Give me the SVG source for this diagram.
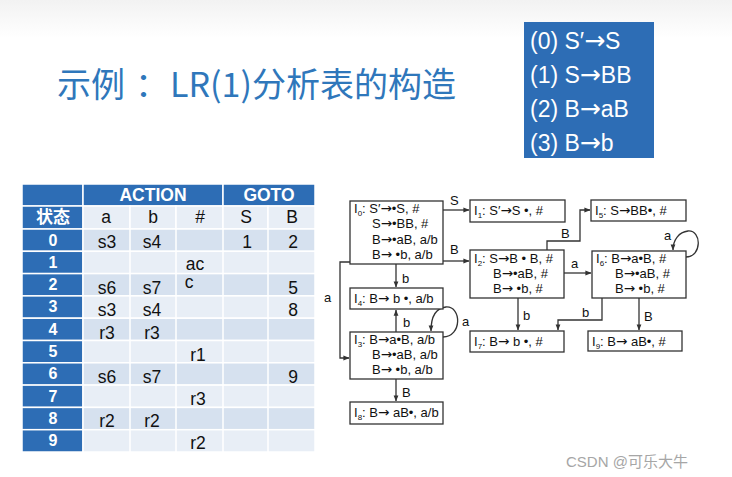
<svg xmlns="http://www.w3.org/2000/svg" width="732" height="477" viewBox="0 0 732 477">
<defs>
<linearGradient id="topfade" x1="0" y1="0" x2="0" y2="1">
<stop offset="0" stop-color="#f2f2f2"/>
<stop offset="1" stop-color="#ffffff"/>
</linearGradient>
<marker id="arr" viewBox="0 0 8 8" refX="7.5" refY="4" markerWidth="6" markerHeight="6" markerUnits="userSpaceOnUse" orient="auto">
<path d="M0,0.8 L8,4 L0,7.2 Z" fill="#333"/>
</marker>
<style>
.dark{fill:#2d6db5;stroke:#fff;stroke-width:1.5}
.lite{fill:#d6e1ef;stroke:#fff;stroke-width:1.5}
.lite2{fill:#e8eef6;stroke:#fff;stroke-width:1.5}
.th{font-family:"Liberation Sans","Noto Sans CJK SC",sans-serif;font-weight:bold;fill:#fff;text-anchor:middle}
.td{font-family:"Liberation Sans","Noto Sans CJK SC",sans-serif;font-size:17.5px;fill:#111;text-anchor:middle}
.num{font-family:"Liberation Sans",sans-serif;font-weight:bold;font-size:16px;fill:#fff;text-anchor:middle}
.box{fill:#fff;stroke:#333;stroke-width:1.3}
.nt{font-family:"Liberation Sans",sans-serif;font-size:13px;fill:#111}
.sub{font-size:8px}
.ar{font-family:"DejaVu Sans",sans-serif;font-size:13.5px}
.gar{font-family:"DejaVu Sans",sans-serif;font-size:25px}
.edge{fill:none;stroke:#333;stroke-width:1.3}
.el{font-family:"Liberation Sans",sans-serif;font-size:13px;fill:#111}
.gr{font-family:"Liberation Sans",sans-serif;font-size:23px;fill:#fff}
</style>
</defs>
<rect x="0" y="0" width="732" height="477" fill="#fff"/>
<rect x="0" y="0" width="732" height="38" fill="url(#topfade)"/>

<g id="title">
<text y="97" font-family="Noto Sans CJK SC,sans-serif" font-size="34" fill="#2f77bb"><tspan x="57">示例</tspan><tspan x="135">：</tspan><tspan x="170">LR(1)分析表的构造</tspan></text>
</g>

<g id="grammar">
<rect x="524" y="22" width="130" height="136" fill="#2d6db5"/>
<text class="gr" x="530" y="49">(0) S′<tspan class="gar">→</tspan>S</text>
<text class="gr" x="530" y="83">(1) S<tspan class="gar">→</tspan>BB</text>
<text class="gr" x="530" y="117">(2) B<tspan class="gar">→</tspan>aB</text>
<text class="gr" x="530" y="151">(3) B<tspan class="gar">→</tspan>b</text>
</g>

<g id="table">
<rect class="dark" x="22" y="184" width="61" height="22"/>
<rect class="dark" x="83" y="184" width="140" height="22"/>
<rect class="dark" x="223" y="184" width="92" height="22"/>
<text class="th" x="153" y="201" font-size="17.5">ACTION</text>
<text class="th" x="269" y="201" font-size="17.5">GOTO</text>
<rect class="dark" x="22" y="206" width="61" height="23"/>
<rect class="lite2" x="83" y="206" width="47" height="23"/>
<rect class="lite2" x="130" y="206" width="46" height="23"/>
<rect class="lite2" x="176" y="206" width="47" height="23"/>
<rect class="lite2" x="223" y="206" width="45" height="23"/>
<rect class="lite2" x="268" y="206" width="47" height="23"/>
<text class="th" x="53" y="223" font-size="17">状态</text>
<text class="td" x="106" y="223">a</text>
<text class="td" x="153" y="223">b</text>
<text class="td" x="200" y="223">#</text>
<text class="td" x="246" y="223">S</text>
<text class="td" x="292" y="223">B</text>

<g id="rows">
<rect class="dark" x="22" y="229" width="61" height="22.3"/><rect class="lite" x="83" y="229" width="232" height="22.3"/>
<rect class="dark" x="22" y="251.3" width="61" height="22.3"/><rect class="lite2" x="83" y="251.3" width="232" height="22.3"/>
<rect class="dark" x="22" y="273.6" width="61" height="22.3"/><rect class="lite" x="83" y="273.6" width="232" height="22.3"/>
<rect class="dark" x="22" y="295.9" width="61" height="22.3"/><rect class="lite2" x="83" y="295.9" width="232" height="22.3"/>
<rect class="dark" x="22" y="318.2" width="61" height="22.3"/><rect class="lite" x="83" y="318.2" width="232" height="22.3"/>
<rect class="dark" x="22" y="340.5" width="61" height="22.3"/><rect class="lite2" x="83" y="340.5" width="232" height="22.3"/>
<rect class="dark" x="22" y="362.8" width="61" height="22.3"/><rect class="lite" x="83" y="362.8" width="232" height="22.3"/>
<rect class="dark" x="22" y="385.1" width="61" height="22.3"/><rect class="lite2" x="83" y="385.1" width="232" height="22.3"/>
<rect class="dark" x="22" y="407.4" width="61" height="22.3"/><rect class="lite" x="83" y="407.4" width="232" height="22.3"/>
<rect class="dark" x="22" y="429.7" width="61" height="22.3"/><rect class="lite2" x="83" y="429.7" width="232" height="22.3"/>
<path d="M130,229 V452 M176,229 V452 M223,229 V452 M268,229 V452" stroke="#fff" stroke-width="1.5"/>
</g>

<text class="num" x="53" y="245.5">0</text>
<text class="num" x="53" y="267.8">1</text>
<text class="num" x="53" y="290.1">2</text>
<text class="num" x="53" y="312.4">3</text>
<text class="num" x="53" y="334.7">4</text>
<text class="num" x="53" y="357">5</text>
<text class="num" x="53" y="379.3">6</text>
<text class="num" x="53" y="401.6">7</text>
<text class="num" x="53" y="423.9">8</text>
<text class="num" x="53" y="446.2">9</text>

<text class="td" x="107" y="248">s3</text><text class="td" x="152" y="248">s4</text><text class="td" x="247" y="248">1</text><text class="td" x="293" y="248">2</text>
<text class="td" x="195" y="270">ac</text>
<text class="td" x="107" y="294">s6</text><text class="td" x="152" y="294">s7</text><text class="td" x="189" y="288">c</text><text class="td" x="293" y="294">5</text>
<text class="td" x="107" y="316">s3</text><text class="td" x="152" y="316">s4</text><text class="td" x="293" y="316">8</text>
<text class="td" x="107" y="339">r3</text><text class="td" x="152" y="339">r3</text>
<text class="td" x="198" y="361">r1</text>
<text class="td" x="107" y="383">s6</text><text class="td" x="152" y="383">s7</text><text class="td" x="293" y="383">9</text>
<text class="td" x="198" y="405">r3</text>
<text class="td" x="107" y="427">r2</text><text class="td" x="152" y="427">r2</text>
<text class="td" x="198" y="449">r2</text>
</g>

<g id="connectors">
<path class="edge" d="M443,210 H469" marker-end="url(#arr)"/>
<text class="el" x="450" y="205">S</text>
<path class="edge" d="M443,261 H469" marker-end="url(#arr)"/>
<text class="el" x="450" y="254">B</text>
<path class="edge" d="M396,264 V287" marker-end="url(#arr)"/>
<text class="el" x="402" y="283">b</text>
<path class="edge" d="M350,262 H340 V358 H349" marker-end="url(#arr)"/>
<text class="el" x="324" y="302">a</text>
<path class="edge" d="M396,332 V310" marker-end="url(#arr)"/>
<text class="el" x="403" y="327">b</text>
<path class="edge" d="M443,337 C462,337 462,306 446,307 C436,308 431,316 431,331" marker-end="url(#arr)"/>
<text class="el" x="462" y="326">a</text>
<path class="edge" d="M396,379 V401" marker-end="url(#arr)"/>
<text class="el" x="402" y="397">B</text>
<path class="edge" d="M547,250 V241 H580 V210 H590" marker-end="url(#arr)"/>
<text class="el" x="561" y="238">B</text>
<path class="edge" d="M564,273 H591" marker-end="url(#arr)"/>
<text class="el" x="571" y="268">a</text>
<path class="edge" d="M518,298 V330" marker-end="url(#arr)"/>
<text class="el" x="523" y="320">b</text>
<path class="edge" d="M686,257 C702,257 702,230 688,231 C679,232 673,240 673,250" marker-end="url(#arr)"/>
<text class="el" x="664" y="240">a</text>
<path class="edge" d="M602,298 V320 H558 V330" marker-end="url(#arr)"/>
<text class="el" x="582" y="317">b</text>
<path class="edge" d="M639,298 V330" marker-end="url(#arr)"/>
<text class="el" x="644" y="321">B</text>
</g>

<g id="I0">
<rect class="box" x="350" y="201" width="93" height="63"/>
<text class="nt" x="354" y="213">I<tspan class="sub" dy="3">0</tspan><tspan dy="-3">: S′</tspan><tspan class="ar">→</tspan>•S, #</text>
<text class="nt" x="372" y="228">S<tspan class="ar">→</tspan>•BB, #</text>
<text class="nt" x="372" y="244">B<tspan class="ar">→</tspan>•aB, a/b</text>
<text class="nt" x="372" y="259">B<tspan class="ar">→</tspan> •b, a/b</text>
</g>
<g id="I1">
<rect class="box" x="470" y="200" width="95" height="22"/>
<text class="nt" x="474" y="215">I<tspan class="sub" dy="3">1</tspan><tspan dy="-3">: S′</tspan><tspan class="ar">→</tspan>S •, #</text>
</g>
<g id="I2">
<rect class="box" x="470" y="250" width="94" height="48"/>
<text class="nt" x="474" y="263">I<tspan class="sub" dy="3">2</tspan><tspan dy="-3">: S</tspan><tspan class="ar">→</tspan>B • B, #</text>
<text class="nt" x="493" y="278">B<tspan class="ar">→</tspan>•aB, #</text>
<text class="nt" x="493" y="293">B<tspan class="ar">→</tspan> •b, #</text>
</g>
<g id="I5">
<rect class="box" x="591" y="200" width="95" height="21"/>
<text class="nt" x="595" y="215">I<tspan class="sub" dy="3">5</tspan><tspan dy="-3">: S</tspan><tspan class="ar">→</tspan>BB•, #</text>
</g>
<g id="I6">
<rect class="box" x="592" y="251" width="94" height="47"/>
<text class="nt" x="596" y="263">I<tspan class="sub" dy="3">6</tspan><tspan dy="-3">: B</tspan><tspan class="ar">→</tspan>a•B, #</text>
<text class="nt" x="615" y="278">B<tspan class="ar">→</tspan>•aB, #</text>
<text class="nt" x="615" y="293">B<tspan class="ar">→</tspan> •b, #</text>
</g>
<g id="I4">
<rect class="box" x="350" y="288" width="93" height="21"/>
<text class="nt" x="354" y="303">I<tspan class="sub" dy="3">4</tspan><tspan dy="-3">: B</tspan><tspan class="ar">→</tspan> b •, a/b</text>
</g>
<g id="I3">
<rect class="box" x="350" y="332" width="93" height="47"/>
<text class="nt" x="354" y="344">I<tspan class="sub" dy="3">3</tspan><tspan dy="-3">: B</tspan><tspan class="ar">→</tspan>a•B, a/b</text>
<text class="nt" x="372" y="359">B<tspan class="ar">→</tspan>•aB, a/b</text>
<text class="nt" x="372" y="374">B<tspan class="ar">→</tspan> •b, a/b</text>
</g>
<g id="I7">
<rect class="box" x="470" y="331" width="94" height="21"/>
<text class="nt" x="474" y="346">I<tspan class="sub" dy="3">7</tspan><tspan dy="-3">: B</tspan><tspan class="ar">→</tspan> b •, #</text>
</g>
<g id="I9">
<rect class="box" x="588" y="331" width="94" height="20"/>
<text class="nt" x="592" y="346">I<tspan class="sub" dy="3">9</tspan><tspan dy="-3">: B</tspan><tspan class="ar">→</tspan> aB•, #</text>
</g>
<g id="I8">
<rect class="box" x="350" y="402" width="93" height="22"/>
<text class="nt" x="354" y="417">I<tspan class="sub" dy="3">8</tspan><tspan dy="-3">: B</tspan><tspan class="ar">→</tspan> aB•, a/b</text>
</g>

<g id="watermark">
<text x="566" y="467" font-family="Liberation Sans,Noto Sans CJK SC,sans-serif" font-size="15" fill="#a6a6a6">CSDN @可乐大牛</text>
</g>
</svg>
